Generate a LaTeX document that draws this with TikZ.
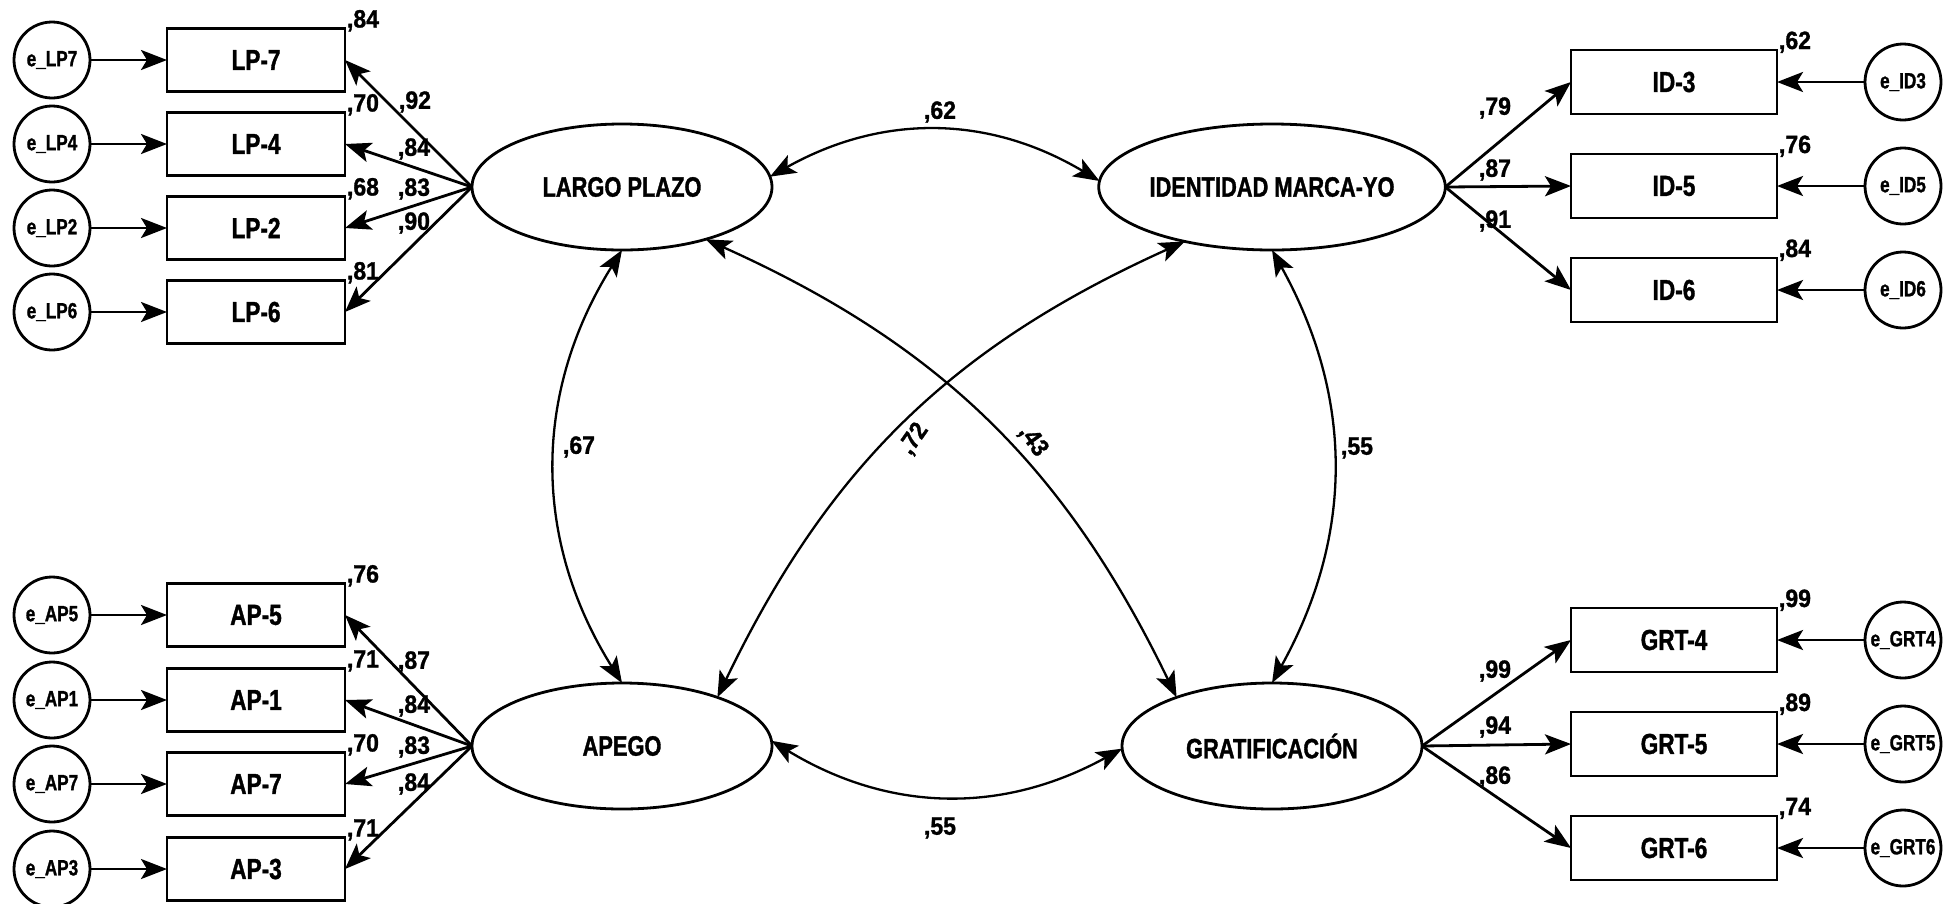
\documentclass[tikz,border=0pt]{standalone}
\usepackage{fontspec}
\setmainfont{Liberation Sans}
\newfontfamily\condfont{Liberation Sans}[FakeStretch=0.78, FakeBold=1.2]
\newfontfamily\numfont{Liberation Sans}[FakeStretch=0.92, FakeBold=1.2]
\usetikzlibrary{shapes.geometric, arrows.meta}

\begin{document}
\begin{tikzpicture}[x=1pt, y=-1pt,
  line width=2.8pt,
  every node/.style={inner sep=0pt, outer sep=0pt},
  latent/.style={draw, ellipse, minimum width=300pt, minimum height=126pt,
    font=\condfont\bfseries\fontsize{28}{30}\selectfont},
  obsL/.style={draw, rectangle, minimum width=178pt, minimum height=63pt,
    font=\condfont\bfseries\fontsize{29}{30}\selectfont},
  obsR/.style={obsL, minimum width=206pt, minimum height=64pt},
  errc/.style={draw, circle, minimum size=76pt,
    font=\condfont\bfseries\fontsize{22}{23}\selectfont},
  num/.style={font=\numfont\bfseries\fontsize{25}{26}\selectfont},
  rsq/.style={num, anchor=base west, xshift=2pt, yshift=1pt},
  semtip/.tip={Stealth[length=26pt, width=20pt, inset=6pt]},
  arr/.style={-semtip},
  cov/.style={semtip-semtip, line width=2.3pt},
]
\useasboundingbox (0,0) rectangle (1957,903);

% latent factors
\node[latent] (lp)  at (622,187)  {LARGO PLAZO};
\node[latent] (id)  at (1272,187) {IDENTIDAD MARCA-YO};
\node[latent] (ap)  at (622,746)  {APEGO};
\node[latent] (grt) at (1272,746) {GRATIFICACIÓN};

% indicators of LARGO PLAZO
\foreach \n/\t/\y/\r in {LP7/LP-7/60/84, LP4/LP-4/144/70, LP2/LP-2/228/68, LP6/LP-6/312/81}{
  \node[obsL] (b\n) at (256,\y) {\t};
  \node[errc] (e\n) at (52,\y) {e\_\n};
  \node[rsq] at (b\n.north east) {,\r};
  \draw[arr] (e\n) -- (b\n);
  \draw[arr] (lp.west) -- (b\n.east);
}

% indicators of APEGO
\foreach \n/\t/\y/\r in {AP5/AP-5/615/76, AP1/AP-1/700/71, AP7/AP-7/784/70, AP3/AP-3/869/71}{
  \node[obsL] (b\n) at (256,\y) {\t};
  \node[errc] (e\n) at (52,\y) {e\_\n};
  \node[rsq] at (b\n.north east) {,\r};
  \draw[arr] (e\n) -- (b\n);
  \draw[arr] (ap.west) -- (b\n.east);
}

% indicators of IDENTIDAD MARCA-YO
\foreach \n/\t/\y/\r in {ID3/ID-3/82/62, ID5/ID-5/186/76, ID6/ID-6/290/84}{
  \node[obsR] (b\n) at (1674,\y) {\t};
  \node[errc] (e\n) at (1903,\y) {e\_\n};
  \node[rsq] at (b\n.north east) {,\r};
  \draw[arr] (e\n) -- (b\n);
  \draw[arr] (id.east) -- (b\n.west);
}

% indicators of GRATIFICACION
\foreach \n/\t/\y/\r in {GRT4/GRT-4/640/99, GRT5/GRT-5/744/89, GRT6/GRT-6/848/74}{
  \node[obsR] (b\n) at (1674,\y) {\t};
  \node[errc] (e\n) at (1903,\y) {e\_\n};
  \node[rsq] at (b\n.north east) {,\r};
  \draw[arr] (e\n) -- (b\n);
  \draw[arr] (grt.east) -- (b\n.west);
}

% factor loadings
\foreach \x/\y/\v in {415/102/92, 414/149/84, 414/189/83, 414/223/90,
                      414/662/87, 414/706/84, 414/747/83, 414/784/84,
                      1495/108/79, 1495/170/87, 1495/221/91,
                      1495/671/99, 1495/727/94, 1495/777/86}{
  \node[num] at (\x,\y) {,\v};
}

% covariances between factors
\draw[cov] (lp.4) to[bend left=30] (id.178);
\draw[cov] (ap.2) to[bend right=30] (grt.181);
\draw[cov] (lp.south) to[bend right=32] (ap.north);
\draw[cov] (id.south) to[bend left=29] (grt.north);
\draw[cov] (lp.-32) to[bend left=20] (grt.153);
\draw[cov] (id.-148) to[bend right=20] (ap.27);

\node[num] (c1) at (940,112) {,62};
\node[num] (c2) at (940,828) {,55};
\node[num] (c3) at (579,447) {,67};
\node[num] (c4) at (1357,448) {,55};
\node[num, rotate=55] (c5) at (914,439) {,72};
\node[num, rotate=-55] (c6) at (1033,441) {,43};
\end{tikzpicture}
\end{document}
